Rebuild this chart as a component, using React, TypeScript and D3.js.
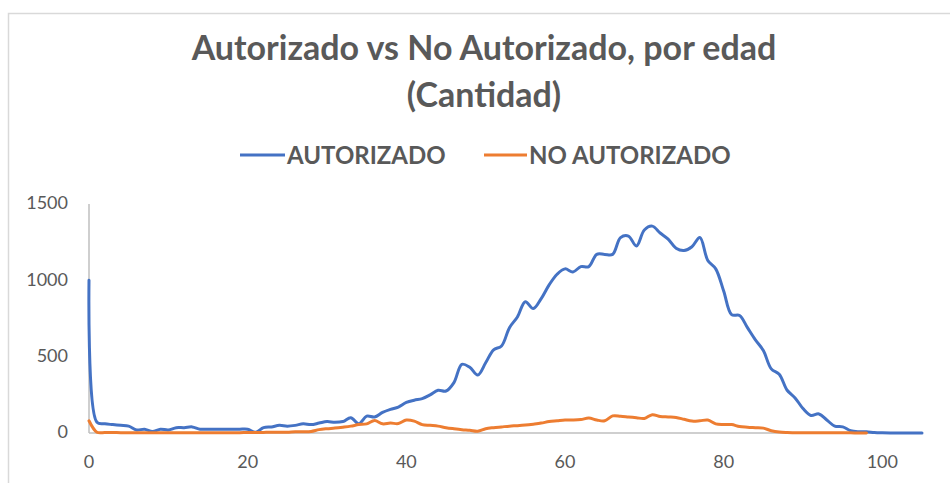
import React from 'react';
import * as d3 from 'd3';

const title1 = 'Autorizado vs No Autorizado, por edad';
const title2 = '(Cantidad)';
const seriesNames = ['AUTORIZADO', 'NO AUTORIZADO'];
const colors = ['#4472C4', '#ED7D31'];

// edad 0..105
const autorizado = [
  1000, 70, 60, 55, 50, 45, 20, 25, 10, 25,
  20, 35, 35, 40, 25, 25, 25, 25, 25, 25,
  25, 5, 35, 40, 50, 45, 50, 60, 55, 65,
  75, 70, 75, 100, 60, 110, 105, 135, 155, 170,
  200, 215, 225, 250, 280, 275, 330, 450, 430, 380,
  460, 545, 570, 690, 760, 860, 815, 880, 970, 1040,
  1075, 1055, 1090, 1090, 1170, 1170, 1170, 1280, 1290, 1225,
  1330, 1355, 1310, 1270, 1210, 1195, 1220, 1280, 1130, 1075,
  930, 775, 770, 690, 610, 540, 420, 385, 280, 230,
  160, 115, 125, 85, 45, 40, 15, 8, 8, 3,
  1, 0, 0, 0, 0, 0,
];

// edad 0..98
const noAutorizado = [
  80, 5, 3, 3, 2, 2, 2, 2, 2, 2,
  2, 2, 2, 2, 2, 2, 2, 2, 2, 2,
  3, 3, 4, 5, 5, 5, 8, 8, 10, 22,
  28, 32, 38, 45, 55, 60, 82, 60, 65, 62,
  85, 78, 55, 50, 45, 35, 28, 22, 18, 12,
  28, 35, 40, 45, 48, 52, 58, 65, 75, 80,
  85, 85, 88, 98, 85, 80, 112, 110, 105, 100,
  95, 120, 108, 105, 102, 90, 78, 80, 85, 60,
  56, 55, 42, 38, 35, 32, 15, 6, 3, 2,
  1, 1, 1, 1, 1, 1, 1, 0, 0,
];

const yTicks = [0, 500, 1000, 1500];
const xTicks = [0, 20, 40, 60, 80, 100];

const textColor = '#595959';
const font = 'Lato, "Open Sans", sans-serif';

export default function App() {
  const x = d3.scaleLinear().domain([0, 105]).range([89, 922]);
  const y = d3.scaleLinear().domain([0, 1500]).range([433, 204]);

  const line = d3
    .line<number>()
    .x((d, i) => x(i))
    .y((d) => y(d))
    .curve(d3.curveCatmullRom.alpha(0.5));

  return (
    <svg
      width={950}
      height={483}
      style={{ position: 'absolute', left: 0, top: 0, background: '#fff' }}
    >
      <rect x={8.5} y={13.5} width={960} height={500} fill="#fff" stroke="#d9d9d9" strokeWidth={1.5} />

      <text x={484} y={60} textAnchor="middle" fontFamily={font} fontWeight="bold" fontSize={34} fill={textColor}>
        {title1}
      </text>
      <text x={484} y={107} textAnchor="middle" fontFamily={font} fontWeight="bold" fontSize={34} fill={textColor}>
        {title2}
      </text>

      {/* leyenda */}
      <g fontFamily={font} fontWeight="bold" fontSize={24} fill={textColor}>
        <line x1={240} x2={285} y1={155} y2={155} stroke={colors[0]} strokeWidth={3} />
        <text x={287} y={164}>{seriesNames[0]}</text>
        <line x1={484} x2={527} y1={155} y2={155} stroke={colors[1]} strokeWidth={3} />
        <text x={529} y={164}>{seriesNames[1]}</text>
      </g>

      {/* ejes */}
      <line x1={x(0)} x2={x(0)} y1={y(1500)} y2={y(0)} stroke="#bfbfbf" strokeWidth={1.5} />
      <line x1={x(0)} x2={x(105)} y1={y(0)} y2={y(0)} stroke="#bfbfbf" strokeWidth={1.5} />

      <g fontFamily={font} fontSize={18} fill={textColor}>
        {yTicks.map((t) => (
          <text key={t} x={68} y={y(t) - 1} dy="0.35em" textAnchor="end">
            {t}
          </text>
        ))}
        {xTicks.map((t) => (
          <text key={t} x={x(t)} y={468} textAnchor="middle">
            {t}
          </text>
        ))}
      </g>

      <path d={line(autorizado) || ''} fill="none" stroke={colors[0]} strokeWidth={3} strokeLinejoin="round" strokeLinecap="round" />
      <path d={line(noAutorizado) || ''} fill="none" stroke={colors[1]} strokeWidth={3} strokeLinejoin="round" strokeLinecap="round" />
    </svg>
  );
}
